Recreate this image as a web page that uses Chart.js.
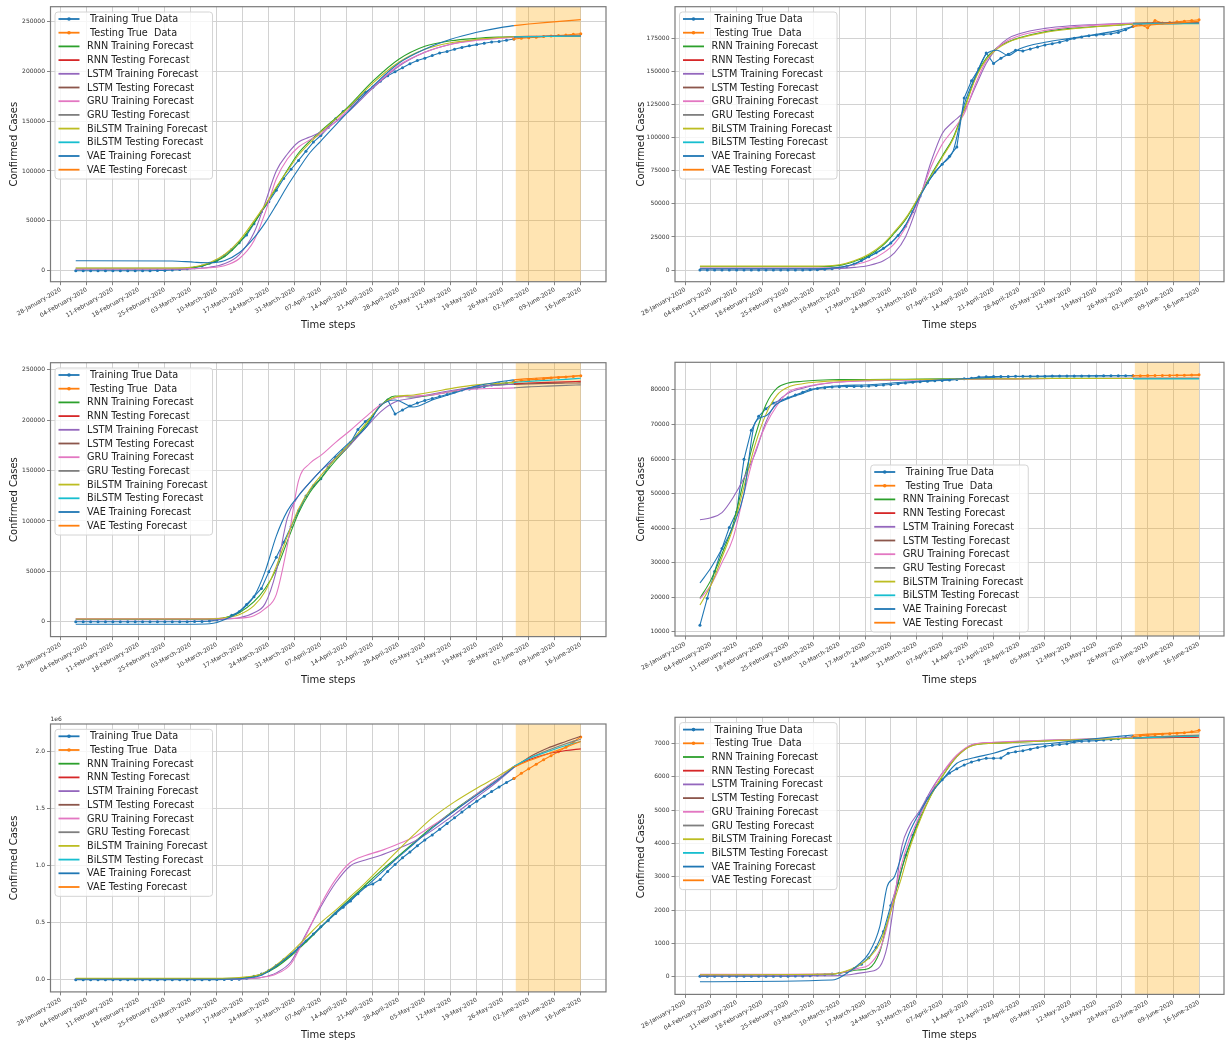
<!DOCTYPE html>
<html lang="en">
<head>
<meta charset="utf-8">
<title>Confirmed cases - training and testing forecasts</title>
<script src="https://cdn.jsdelivr.net/npm/chart.js@4.4.1/dist/chart.umd.min.js"></script>
<style>
  body { margin: 0; background: #fff; }
  #page { position: relative; width: 1228px; height: 1043px; overflow: hidden; background: #fff; }
  #page canvas { position: absolute; }
</style>
</head>
<body>
<div id="page">
  <canvas id="chartA"></canvas>
  <canvas id="chartB"></canvas>
  <canvas id="chartC"></canvas>
  <canvas id="chartD"></canvas>
  <canvas id="chartE"></canvas>
  <canvas id="chartF"></canvas>
</div>
<script>
// x values are days after 28-January-2020, one tick label per week
const dateLabels = ['28-January-2020', '04-February-2020', '11-February-2020', '18-February-2020',
  '25-February-2020', '03-March-2020', '10-March-2020', '17-March-2020', '24-March-2020',
  '31-March-2020', '07-April-2020', '14-April-2020', '21-April-2020', '28-April-2020',
  '05-May-2020', '12-May-2020', '19-May-2020', '26-May-2020', '02-June-2020', '09-June-2020',
  '16-June-2020'];

const seriesNames = [' Training True Data', ' Testing True  Data',
  'RNN Training Forecast', 'RNN Testing Forecast',
  'LSTM Training Forecast', 'LSTM Testing Forecast',
  'GRU Training Forecast', 'GRU Testing Forecast',
  'BiLSTM Training Forecast', 'BiLSTM Testing Forecast',
  'VAE Training Forecast', 'VAE Testing Forecast'];
const seriesColors = ['#1f77b4', '#ff7f0e', '#2ca02c', '#d62728', '#9467bd', '#8c564b',
  '#e377c2', '#7f7f7f', '#bcbd22', '#17becf', '#1f77b4', '#ff7f0e'];

const trainDays = [];
for (let d = 4; d <= 122; d += 2) trainDays.push(d);
const testDays = [];
for (let d = 122; d <= 140; d += 2) testDays.push(d);
const testFcDays = [122, 126, 131, 136, 140];
const shadeDays = [122.5, 140];

// ---- panel A (top left)
const aTrueTrain = [2, 2, 3, 3, 3, 3, 3, 3, 3, 3, 20, 155, 322, 655, 1128, 2036, 3089, 4636, 7375, 10149,
  15113, 21157, 27980, 35713, 47021, 59138, 69176, 80589, 92472, 101739, 110574, 119827, 128948, 135586,
  143626, 152271, 159516, 165155, 172434, 178972, 183957, 189973, 195351, 199414, 203591, 207428, 210717,
  213013, 215858, 218268, 219814, 222104, 223885, 225435, 226699, 228006, 229327, 229858, 231139, 232248];
const aTrueTest = [232248, 232997, 233515, 234013, 234801, 235278, 235763, 236305, 236989, 237500];
const aFcDays = [4, 30, 36, 40, 44, 48, 52, 55, 58, 61, 64, 67, 70, 77, 84, 91, 98, 105, 112, 118, 122];
const aRnn = [2500, 2500, 3500, 7000, 14000, 28000, 48000, 65000, 83000, 101000, 118000, 130000, 140000,
  163000, 190000, 212000, 225000, 230500, 233000, 234200, 234700];
const aLstm = [1500, 1500, 2000, 3500, 7000, 16000, 38000, 68000, 100000, 117000, 129000, 134000, 139000,
  158000, 183000, 205000, 219000, 227000, 231500, 233500, 234300];
const aGru = [2000, 2000, 2200, 3000, 5000, 12000, 30000, 58000, 92000, 112000, 124000, 131000, 137000,
  160000, 184000, 206000, 219000, 227000, 231000, 233000, 234000];
const aBilstm = [2800, 2800, 4000, 8000, 16000, 30000, 50000, 66000, 84000, 100000, 116000, 128000, 139000,
  162000, 188000, 209000, 222000, 228500, 232000, 233800, 234500];
const aVae = [10000, 9800, 8500, 8000, 10000, 18000, 33000, 48000, 66000, 85000, 102000, 118000, 130000,
  158000, 185000, 208000, 222000, 232000, 239000, 243500, 245700];
const aRnnTest = [234700, 235000, 235200, 235400, 235500];
const aLstmTest = [234300, 234600, 234800, 235000, 235200];
const aGruTest = [234000, 234500, 235000, 235500, 236000];
const aBilstmTest = [234500, 234700, 234900, 235000, 235100];
const aVaeTest = [245700, 247300, 249000, 250500, 251700];
const aTicks = [0, 50000, 100000, 150000, 200000, 250000];

// ---- panel B (top right)
const bTrueTrain = [10, 12, 13, 14, 16, 16, 16, 16, 16, 16, 16, 16, 21, 27,
  79, 159, 262, 670, 1040, 1565, 2750, 4600, 7300, 10000, 13000, 16500, 20500, 26000, 33000, 44000,
  56000, 66000, 74000, 80000, 86000, 93000, 130000, 143000, 152000, 164000, 156000, 160000, 163000, 166000,
  165500, 167000, 168500, 170000, 171000, 172000, 173500, 175000, 176000, 177000, 177500, 178000, 178500,
  179500, 181500, 184000];
const bTrueTest = [184000, 185500, 183000, 188500, 186500, 187000, 187500, 188000, 188500, 189000];
const bFcDays = [4, 36, 42, 46, 50, 54, 57, 60, 64, 67, 70, 73, 76, 79, 82, 85, 88, 91, 98, 105, 112, 118, 122];
const bRnn = [2500, 2500, 3500, 6500, 11000, 19000, 28000, 38000, 57000, 72000, 86000, 100000, 122000,
  145000, 160000, 168000, 172500, 175500, 180000, 182500, 184000, 185000, 185800];
const bLstm = [1000, 1000, 1200, 2000, 3500, 7000, 13000, 25000, 55000, 82000, 103000, 112000, 120000,
  138000, 156000, 168000, 175000, 178500, 182500, 184500, 185500, 186200, 186500];
const bGru = [1500, 1500, 2000, 4000, 7000, 13000, 20000, 32000, 56000, 78000, 95000, 106000, 118000,
  140000, 158000, 168000, 173500, 177000, 181000, 183500, 185000, 185800, 186200];
const bBilstm = [3000, 3000, 4000, 7000, 12000, 20000, 29000, 39000, 57000, 71000, 85000, 99000, 121000,
  144000, 159000, 167000, 172000, 175000, 179500, 182000, 183800, 185000, 185800];
const bVae = [1000, 1000, 2000, 4500, 10000, 16000, 23000, 34000, 56000, 70000, 80000, 90000, 125000,
  146000, 163000, 166000, 162000, 167000, 172000, 175000, 178000, 181000, 184000];
const bRnnTest = [185800, 186000, 186100, 186200, 186300];
const bLstmTest = [186500, 186700, 186800, 186900, 187000];
const bGruTest = [186200, 186400, 186500, 186700, 186800];
const bBilstmTest = [185800, 185900, 185900, 186000, 186000];
const bVaeTest = [184000, 185000, 186000, 187000, 188000];
const bTicks = [0, 25000, 50000, 75000, 100000, 125000, 150000, 175000];

// ---- panel C (middle left)
const cTrueTrain = [1, 1, 1, 2, 2, 2, 2, 2, 2, 2, 2, 2, 6, 15,
  45, 120, 222, 400, 673, 1695, 3146, 6391, 9942, 17147, 24926, 33089, 49515, 64059, 78797, 94417,
  110238, 124736, 135032, 141942, 153222, 163027, 170099, 177644, 190839, 198674, 204178, 215000, 220000,
  206000, 210000, 214000, 217000, 219500, 221500, 223500, 225500, 228000, 230000, 231000, 232000, 233500,
  235000, 236000, 237000, 238000];
const cTrueTest = [238000, 239400, 240000, 240500, 241000, 241700, 242300, 242700, 243300, 244100];
const cFcDays = [4, 36, 41, 44, 48, 52, 55, 58, 61, 64, 67, 70, 74, 78, 82, 86, 90, 95, 100, 106, 112, 118, 122];
const cRnn = [2500, 2500, 2800, 4000, 9000, 20000, 33000, 52000, 80000, 108000, 128000, 142000, 160000,
  176000, 194000, 214000, 224000, 223000, 225000, 229000, 233000, 235000, 236000];
const cLstm = [2000, 2000, 2000, 2500, 4000, 9000, 18000, 50000, 103000, 125000, 138000, 150000, 162000,
  176000, 192000, 208000, 218000, 222000, 226000, 230000, 233000, 235000, 235500];
const cGru = [3300, 3300, 3300, 3400, 3600, 6000, 13000, 27000, 76000, 140000, 157000, 165000, 178000,
  190000, 203000, 215000, 222000, 224000, 225000, 229000, 231000, 231500, 232000];
const cBilstm = [2800, 2800, 3000, 4000, 7000, 16000, 30000, 55000, 85000, 112000, 131000, 145000, 162000,
  178000, 196000, 214000, 223000, 225000, 228000, 232000, 235000, 236500, 237500];
const cVae = [-2400, -2400, -1500, 2000, 10000, 25000, 50000, 85000, 110000, 125000, 138000, 150000, 165000,
  179000, 192000, 214000, 220000, 213000, 220000, 227000, 234000, 238000, 240000];
const cRnnTest = [236000, 236800, 237500, 238000, 238500];
const cLstmTest = [235500, 236000, 236500, 236800, 237000];
const cGruTest = [232000, 233000, 233800, 234500, 235000];
const cBilstmTest = [237500, 238500, 239500, 240500, 241500];
const cVaeTest = [240000, 241200, 242300, 243300, 244300];
const cTicks = [0, 50000, 100000, 150000, 200000, 250000];

// ---- panel D (middle right)
const dTrueTrain = [11891, 19716, 27440, 34110, 40150, 44653, 59895, 68347, 72364, 74577, 76200, 77042,
  77754, 78497, 79356, 80151, 80409, 80651, 80859, 80924, 80981, 81021, 81077, 81156, 81300, 81435, 81591,
  81782, 81999, 82198, 82361, 82543, 82642, 82718, 82841, 83014, 83213, 83356, 83760, 83805, 83864, 83884,
  83909, 83940, 83956, 83959, 83966, 83970, 84010, 84012, 84018, 84029, 84038, 84054, 84063, 84081, 84084,
  84102, 84106, 84123];
const dTrueTest = [84123, 84128, 84154, 84177, 84191, 84198, 84216, 84228, 84335, 84378];
const dFcDays = [4, 7, 10, 13, 16, 19, 22, 25, 28, 32, 36, 42, 50, 60, 70, 80, 90, 100, 110, 122];
const dRnn = [19700, 25000, 32500, 41000, 54000, 66500, 75800, 80500, 82000, 82500, 82800, 83000, 83000,
  83100, 83200, 83300, 83300, 83400, 83400, 83400];
const dLstm = [42400, 43000, 44500, 48800, 54500, 61500, 70800, 76500, 79000, 80500, 81500, 82300, 82700,
  82900, 83000, 83100, 83200, 83300, 83300, 83300];
const dGru = [19500, 23500, 30000, 37000, 50000, 62000, 70000, 75500, 79300, 80800, 81600, 82300, 82700,
  82900, 83000, 83100, 83200, 83300, 83300, 83400];
const dBilstm = [17700, 23500, 31500, 40000, 52000, 64000, 73000, 78500, 80800, 81800, 82300, 82700, 82900,
  83000, 83100, 83200, 83200, 83300, 83300, 83300];
const dVae = [24100, 28500, 34000, 40500, 50000, 70500, 72500, 76000, 77500, 79000, 80500, 81200, 81500,
  82300, 82900, 83500, 83900, 84000, 84100, 84100];
const dRnnTest = [83400, 83400, 83400, 83400, 83400];
const dLstmTest = [83300, 83300, 83300, 83300, 83300];
const dGruTest = [83350, 83350, 83350, 83350, 83350];
const dBilstmTest = [83200, 83200, 83200, 83200, 83200];
const dVaeTest = [84100, 84150, 84200, 84250, 84300];
const dTicks = [10000, 20000, 30000, 40000, 50000, 60000, 70000, 80000];

// ---- panel E (bottom left), values in millions
const eTrueTrain = [0, 0, 0, 0, 0, 0, 0, 0, 0, 0, 0, 0, 0.0001, 0.0001, 0.0001, 0.0001, 0.0002, 0.0003,
  0.0005, 0.001, 0.0017, 0.0027, 0.0045, 0.012, 0.03, 0.05, 0.08, 0.125, 0.175, 0.225, 0.28, 0.34, 0.40,
  0.465, 0.52, 0.58, 0.635, 0.69, 0.755, 0.82, 0.84, 0.88, 0.95, 1.01, 1.07, 1.12, 1.175, 1.225, 1.27,
  1.32, 1.37, 1.42, 1.47, 1.52, 1.565, 1.61, 1.65, 1.69, 1.73, 1.765];
const eTrueTest = [1.765, 1.81, 1.85, 1.89, 1.93, 1.965, 2.0, 2.04, 2.085, 2.13];
const eFcDays = [4, 40, 46, 50, 54, 58, 62, 66, 70, 74, 78, 82, 86, 90, 95, 100, 106, 112, 118, 122];
const eRnn = [0.01, 0.01, 0.012, 0.02, 0.045, 0.11, 0.21, 0.33, 0.46, 0.59, 0.71, 0.83, 0.95, 1.06, 1.2,
  1.34, 1.49, 1.63, 1.77, 1.87];
const eLstm = [0.006, 0.006, 0.006, 0.008, 0.02, 0.06, 0.16, 0.40, 0.64, 0.85, 1.0, 1.05, 1.09, 1.14, 1.21,
  1.31, 1.45, 1.6, 1.75, 1.86];
const eGru = [0.008, 0.008, 0.008, 0.01, 0.02, 0.05, 0.14, 0.39, 0.66, 0.88, 1.03, 1.09, 1.13, 1.18, 1.25,
  1.35, 1.48, 1.63, 1.77, 1.87];
const eBilstm = [0.012, 0.012, 0.014, 0.025, 0.05, 0.13, 0.24, 0.37, 0.5, 0.61, 0.73, 0.85, 0.98, 1.11,
  1.27, 1.42, 1.56, 1.68, 1.79, 1.87];
const eVae = [0.004, 0.004, 0.006, 0.015, 0.04, 0.12, 0.22, 0.34, 0.46, 0.59, 0.7, 0.81, 0.93, 1.05, 1.19,
  1.33, 1.48, 1.62, 1.76, 1.865];
const eRnnTest = [1.87, 1.93, 1.98, 2.01, 2.025];
const eLstmTest = [1.86, 1.95, 2.03, 2.09, 2.135];
const eGruTest = [1.87, 1.94, 2.01, 2.07, 2.11];
const eBilstmTest = [1.87, 1.94, 2.0, 2.055, 2.09];
const eVaeTest = [1.865, 1.92, 1.98, 2.04, 2.09];
const eTicks = [0, 0.5, 1.0, 1.5, 2.0];

// ---- panel F (bottom right)
const fTrueTrain = [12, 12, 13, 15, 15, 15, 15, 15, 15, 15, 15, 15, 15, 23, 25, 33, 52, 63, 80, 107, 140,
  250, 377, 568, 876, 1353, 2136, 2810, 3640, 4245, 4862, 5350, 5687, 5908, 6108, 6238, 6351, 6440, 6500,
  6550, 6550, 6560, 6700, 6746, 6778, 6825, 6875, 6913, 6941, 6964, 6989, 7036, 7060, 7072, 7081, 7099,
  7114, 7139, 7173, 7195];
const fTrueTest = [7200, 7225, 7245, 7260, 7275, 7290, 7305, 7320, 7345, 7390];
const fFcDays = [4, 40, 44, 47, 50, 53, 55, 57, 59, 61, 64, 67, 70, 74, 78, 84, 90, 100, 110, 122];
const fRnn = [50, 80, 150, 200, 250, 750, 1600, 2400, 3250, 3900, 4750, 5450, 6000, 6600, 6930, 7000, 7030,
  7080, 7120, 7150];
const fLstm = [30, 30, 50, 100, 150, 300, 900, 2300, 3900, 4500, 5000, 5600, 6100, 6600, 6950, 7020, 7050,
  7100, 7130, 7160];
const fGru = [70, 90, 150, 250, 350, 800, 1500, 2500, 3400, 4100, 4850, 5550, 6100, 6650, 6950, 7030, 7060,
  7100, 7130, 7160];
const fBilstm = [60, 80, 180, 320, 550, 1000, 1600, 2300, 3000, 3800, 4700, 5450, 6000, 6600, 6920, 7000,
  7030, 7080, 7120, 7150];
const fVae = [-150, -100, 100, 350, 700, 1500, 2700, 3000, 3650, 4300, 4950, 5500, 5900, 6400, 6550, 6700,
  6900, 7000, 7120, 7250];
const fRnnTest = [7150, 7160, 7170, 7175, 7180];
const fLstmTest = [7160, 7180, 7200, 7215, 7225];
const fGruTest = [7160, 7185, 7210, 7230, 7245];
const fBilstmTest = [7150, 7170, 7190, 7205, 7215];
const fVaeTest = [7250, 7275, 7300, 7320, 7340];
const fTicks = [0, 1000, 2000, 3000, 4000, 5000, 6000, 7000];

const FONT = "'DejaVu Sans', 'Liberation Sans', sans-serif";
Chart.defaults.font.family = FONT;

function points(xs, ys) {
  return ys.map((y, i) => ({x: xs[i], y: y}));
}

function makeDatasets(s) {
  const series = [
    points(trainDays, s.trueTrain), points(testDays, s.trueTest),
    points(s.fcDays, s.rnn), points(testFcDays, s.rnnTest),
    points(s.fcDays, s.lstm), points(testFcDays, s.lstmTest),
    points(s.fcDays, s.gru), points(testFcDays, s.gruTest),
    points(s.fcDays, s.bilstm), points(testFcDays, s.bilstmTest),
    points(s.fcDays, s.vae), points(testFcDays, s.vaeTest)
  ];
  return series.map((data, i) => ({
    label: seriesNames[i],
    data: data,
    borderColor: seriesColors[i],
    backgroundColor: seriesColors[i],
    borderWidth: 1.1,
    pointRadius: i < 2 ? 1.5 : 0,
    pointBorderWidth: 0,
    pointBackgroundColor: seriesColors[i],
    cubicInterpolationMode: i < 2 ? 'default' : 'monotone',
    tension: 0,
    fill: false,
    order: series.length - i
  }));
}

// legend box inside the plot, like matplotlib's
function drawLegend(chart, loc) {
  const {ctx, chartArea: a} = chart;
  const items = chart.data.datasets;
  ctx.save();
  ctx.font = '9.7px ' + FONT;
  let maxW = 0;
  items.forEach(ds => { maxW = Math.max(maxW, ctx.measureText(ds.label).width); });
  const rowH = 13.7;
  const w = 32 + maxW + 5;
  const h = rowH * (items.length - 1) + 16.3;
  let left = a.left + 4.5, top = a.top + 5.3;
  if (loc === 'lower center') {
    left = (a.left + a.right) / 2 - w / 2;
    top = a.bottom - 4 - h;
  }
  ctx.beginPath();
  if (ctx.roundRect) ctx.roundRect(left, top, w, h, 3); else ctx.rect(left, top, w, h);
  ctx.fillStyle = 'rgba(255,255,255,0.8)';
  ctx.fill();
  ctx.strokeStyle = '#d4d4d4';
  ctx.lineWidth = 1;
  ctx.stroke();
  items.forEach((ds, i) => {
    const cy = top + 7 + i * rowH;
    ctx.strokeStyle = ds.borderColor;
    ctx.lineWidth = 1.8;
    ctx.beginPath();
    ctx.moveTo(left + 3.5, cy);
    ctx.lineTo(left + 24.5, cy);
    ctx.stroke();
    if (ds.pointRadius > 0) {
      ctx.fillStyle = ds.borderColor;
      ctx.beginPath();
      ctx.arc(left + 14, cy, 1.8, 0, 2 * Math.PI);
      ctx.fill();
    }
    ctx.fillStyle = '#222';
    ctx.textBaseline = 'middle';
    ctx.textAlign = 'left';
    ctx.fillText(ds.label, left + 32, cy + 0.5);
  });
  ctx.restore();
}

const panelDecor = {
  id: 'panelDecor',
  beforeDatasetsDraw(chart) {
    const {ctx, chartArea: a, scales: {x}} = chart;
    const x0 = x.getPixelForValue(shadeDays[0]);
    const x1 = x.getPixelForValue(shadeDays[1]);
    ctx.save();
    ctx.fillStyle = 'rgba(255,165,0,0.3)';
    ctx.fillRect(x0, a.top, x1 - x0, a.bottom - a.top);
    ctx.restore();
  },
  afterDatasetsDraw(chart, args, opts) {
    const {ctx, chartArea: a} = chart;
    ctx.save();
    ctx.strokeStyle = '#7a7a7a';
    ctx.lineWidth = 1.2;
    ctx.strokeRect(a.left, a.top, a.right - a.left, a.bottom - a.top);
    if (opts.offsetText) {
      ctx.fillStyle = '#333';
      ctx.font = '6px ' + FONT;
      ctx.textBaseline = 'bottom';
      ctx.fillText(opts.offsetText, a.left, a.top - 2);
    }
    ctx.restore();
    drawLegend(chart, opts.legendLoc);
  }
};

const gridStyle = {color: '#d2d2d2', lineWidth: 1, tickLength: 3.5, tickColor: '#666', tickWidth: 0.8};

function makeChart(p) {
  const canvas = document.getElementById(p.id);
  canvas.width = p.w;
  canvas.height = p.h;
  canvas.style.left = p.left + 'px';
  canvas.style.top = p.top + 'px';
  return new Chart(canvas.getContext('2d'), {
    type: 'line',
    data: {datasets: makeDatasets(p.sets)},
    plugins: [panelDecor],
    options: {
      responsive: false,
      animation: false,
      devicePixelRatio: 1,
      events: [],
      layout: {padding: {left: 0, right: p.padR, top: p.padT, bottom: p.padB}},
      scales: {
        x: {
          type: 'linear',
          bounds: 'data',
          min: -2.8,
          max: 146.8,
          afterFit: s => { s.height = p.xAxisH; },
          afterBuildTicks: s => { s.ticks = dateLabels.map((_, i) => ({value: i * 7})); },
          ticks: {
            autoSkip: false, minRotation: 30, maxRotation: 30, padding: 1,
            font: {size: 6}, color: '#333',
            callback: (v, i) => dateLabels[i]
          },
          grid: gridStyle,
          border: {display: false},
          title: {display: true, text: 'Time steps', color: '#222', font: {size: 10},
            padding: {top: 2, bottom: p.xTitlePadB}}
        },
        y: {
          type: 'linear',
          bounds: 'data',
          min: p.yMin,
          max: p.yMax,
          afterFit: s => { s.width = p.yAxisW; },
          afterBuildTicks: s => { s.ticks = p.yTicks.map(v => ({value: v})); },
          ticks: {
            padding: 2, font: {size: 6}, color: '#333',
            callback: p.yFmt || (v => String(v))
          },
          grid: gridStyle,
          border: {display: false},
          title: {display: true, text: 'Confirmed Cases', color: '#222', font: {size: 10},
            padding: {top: p.yTitlePad, bottom: 0}}
        }
      },
      plugins: {
        legend: {display: false},
        tooltip: {enabled: false},
        panelDecor: {legendLoc: p.legendLoc, offsetText: p.offsetText}
      }
    }
  });
}

const panels = [
  {id: 'chartA', left: 0, top: 0, w: 614, h: 345, padT: 6.7, padR: 8, padB: 10, xAxisH: 53.3, xTitlePadB: 4,
    yAxisW: 50.5, yTitlePad: 8, yMin: -11000, yMax: 264700, yTicks: aTicks, legendLoc: 'upper left',
    sets: {trueTrain: aTrueTrain, trueTest: aTrueTest, fcDays: aFcDays, rnn: aRnn, lstm: aLstm, gru: aGru,
      bilstm: aBilstm, vae: aVae, rnnTest: aRnnTest, lstmTest: aLstmTest, gruTest: aGruTest,
      bilstmTest: aBilstmTest, vaeTest: aVaeTest}},
  {id: 'chartB', left: 614, top: 0, w: 614, h: 345, padT: 6.7, padR: 1, padB: 10, xAxisH: 53.3, xTitlePadB: 4,
    yAxisW: 61, yTitlePad: 21, yMin: -8800, yMax: 198900, yTicks: bTicks, legendLoc: 'upper left',
    sets: {trueTrain: bTrueTrain, trueTest: bTrueTest, fcDays: bFcDays, rnn: bRnn, lstm: bLstm, gru: bGru,
      bilstm: bBilstm, vae: bVae, rnnTest: bRnnTest, lstmTest: bLstmTest, gruTest: bGruTest,
      bilstmTest: bBilstmTest, vaeTest: bVaeTest}},
  {id: 'chartC', left: 0, top: 345, w: 614, h: 355, padT: 17.7, padR: 8, padB: 10, xAxisH: 53.4, xTitlePadB: 4,
    yAxisW: 50.5, yTitlePad: 8, yMin: -14700, yMax: 257000, yTicks: cTicks, legendLoc: 'upper left',
    sets: {trueTrain: cTrueTrain, trueTest: cTrueTest, fcDays: cFcDays, rnn: cRnn, lstm: cLstm, gru: cGru,
      bilstm: cBilstm, vae: cVae, rnnTest: cRnnTest, lstmTest: cLstmTest, gruTest: cGruTest,
      bilstmTest: cBilstmTest, vaeTest: cVaeTest}},
  {id: 'chartD', left: 614, top: 345, w: 614, h: 355, padT: 17.3, padR: 1, padB: 10, xAxisH: 54, xTitlePadB: 4,
    yAxisW: 61, yTitlePad: 21, yMin: 8750, yMax: 88000, yTicks: dTicks, legendLoc: 'lower center',
    sets: {trueTrain: dTrueTrain, trueTest: dTrueTest, fcDays: dFcDays, rnn: dRnn, lstm: dLstm, gru: dGru,
      bilstm: dBilstm, vae: dVae, rnnTest: dRnnTest, lstmTest: dLstmTest, gruTest: dGruTest,
      bilstmTest: dBilstmTest, vaeTest: dVaeTest}},
  {id: 'chartE', left: 0, top: 700, w: 614, h: 343, padT: 24, padR: 8, padB: 0, xAxisH: 51.1, xTitlePadB: 2,
    yAxisW: 50.5, yTitlePad: 8, yMin: -0.107, yMax: 2.243, yTicks: eTicks, legendLoc: 'upper left',
    yFmt: v => v.toFixed(1), offsetText: '1e6',
    sets: {trueTrain: eTrueTrain, trueTest: eTrueTest, fcDays: eFcDays, rnn: eRnn, lstm: eLstm, gru: eGru,
      bilstm: eBilstm, vae: eVae, rnnTest: eRnnTest, lstmTest: eLstmTest, gruTest: eGruTest,
      bilstmTest: eBilstmTest, vaeTest: eVaeTest}},
  {id: 'chartF', left: 614, top: 700, w: 614, h: 343, padT: 17.3, padR: 1, padB: 0, xAxisH: 48.6, xTitlePadB: 2,
    yAxisW: 61, yTitlePad: 21, yMin: -530, yMax: 7780, yTicks: fTicks, legendLoc: 'upper left',
    sets: {trueTrain: fTrueTrain, trueTest: fTrueTest, fcDays: fFcDays, rnn: fRnn, lstm: fLstm, gru: fGru,
      bilstm: fBilstm, vae: fVae, rnnTest: fRnnTest, lstmTest: fLstmTest, gruTest: fGruTest,
      bilstmTest: fBilstmTest, vaeTest: fVaeTest}}
];

panels.forEach(makeChart);
</script>
</body>
</html>
